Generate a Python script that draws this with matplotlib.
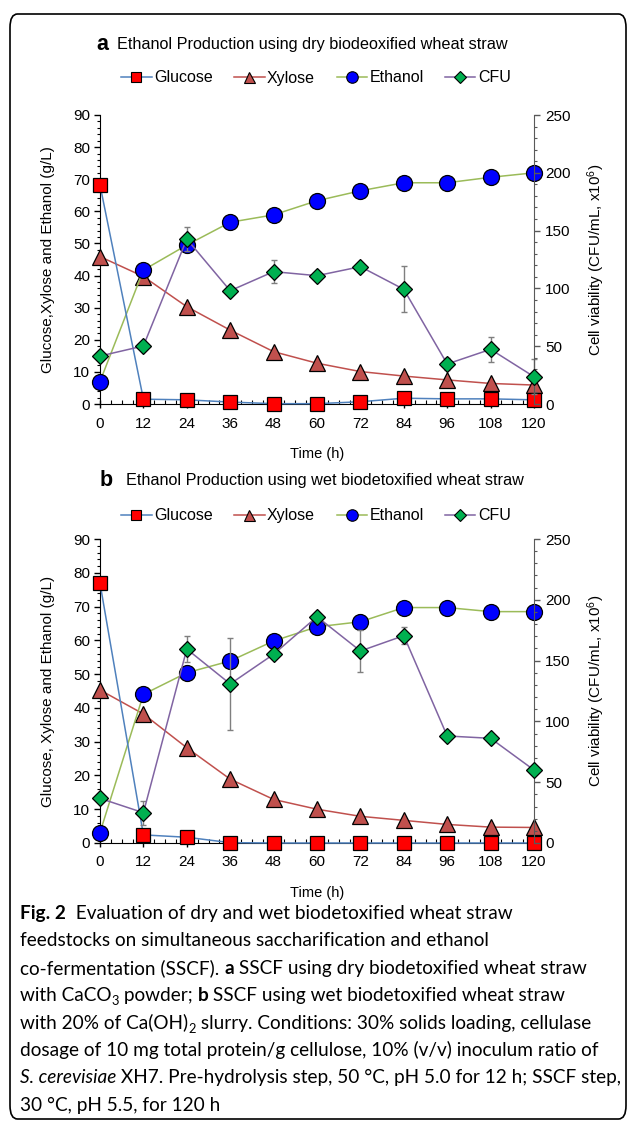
import matplotlib
matplotlib.use("Agg")
import matplotlib.pyplot as plt
from matplotlib.lines import Line2D
from matplotlib.patches import FancyBboxPatch
from matplotlib.ticker import MultipleLocator

plt.rcParams['font.family'] = ['Liberation Sans', 'DejaVu Sans']
plt.rcParams['mathtext.fontset'] = 'custom'
plt.rcParams['mathtext.rm'] = 'Liberation Sans'
plt.rcParams['mathtext.it'] = 'Liberation Sans:italic'
plt.rcParams['mathtext.bf'] = 'Liberation Sans:bold'

# ---------------- data ----------------
time_h = [0, 12, 24, 36, 48, 60, 72, 84, 96, 108, 120]
series_names = ["Glucose", "Xylose", "Ethanol", "CFU"]

a_glucose = [68.2, 1.5, 1.3, 0.6, 0.1, 0.1, 0.7, 1.8, 1.6, 1.6, 1.3]
a_xylose = [45.9, 39.7, 30.3, 23.0, 16.3, 12.7, 10.1, 8.7, 7.5, 6.4, 5.9]
a_ethanol = [7.0, 41.7, 49.5, 56.6, 58.9, 63.3, 66.4, 68.9, 68.9, 70.6, 72.0]
a_ethanol_err = [0, 0, 1.5, 1.8, 1.0, 0, 0, 0, 0, 0, 0]
a_cfu = [41.5, 50.2, 142.7, 98.0, 114.5, 111.0, 118.8, 99.2, 34.6, 47.3, 23.6]
a_cfu_err = [0, 0, 10, 0, 10, 0, 0, 20, 5, 11, 15]

b_glucose = [76.9, 2.4, 1.7, 0.1, 0.0, 0.0, 0.0, 0.0, 0.0, 0.0, 0.0]
b_xylose = [45.3, 38.2, 28.2, 18.9, 12.9, 10.0, 7.9, 6.7, 5.5, 4.7, 4.6]
b_ethanol = [3.1, 44.0, 50.4, 53.9, 59.8, 64.0, 65.5, 69.7, 69.7, 68.5, 68.5]
b_ethanol_err = [0, 0, 0, 0, 0, 0, 2.0, 0, 0, 0, 0]
b_cfu = [36.7, 24.9, 159.5, 130.8, 155.2, 186.1, 157.9, 170.5, 88.0, 86.1, 60.0]
b_cfu_err = [0, 10, 10.5, 38, 0, 0, 17, 7, 0, 3, 0]

x_ticks = [0, 12, 24, 36, 48, 60, 72, 84, 96, 108, 120]
left_ticks = [0, 10, 20, 30, 40, 50, 60, 70, 80, 90]
right_ticks = [0, 50, 100, 150, 200, 250]

titles = ["Ethanol Production using dry biodeoxified wheat straw",
          "Ethanol Production using wet biodetoxified wheat straw"]
panel_letters = ["a", "b"]
left_labels = ["Glucose,Xylose and Ethanol (g/L)", "Glucose, Xylose and Ethanol (g/L)"]
right_label = "Cell viability (CFU/mL, x10$^6$)"
x_label = "Time (h)"

# ---------------- styles ----------------
W, H = 629, 1128
fig = plt.figure(figsize=(W / 100, H / 100), dpi=100)

def fx(x):
    return x / W

def fy(y):
    return 1 - y / H

line_cols = {"Glucose": "#4F81BD", "Xylose": "#C0504D", "Ethanol": "#9BBB59", "CFU": "#8064A2"}
mk_face = {"Glucose": "#FF0000", "Xylose": "#C0504D", "Ethanol": "#0000FF", "CFU": "#00B050"}
mk_shape = {"Glucose": "s", "Xylose": "^", "Ethanol": "o", "CFU": "D"}
mk_size = {"Glucose": 10.5, "Xylose": 11, "Ethanol": 11.5, "CFU": 8.5}

# frame
frame = FancyBboxPatch((fx(10), fy(1119)), fx(616), (1119 - 14) / H,
                       boxstyle="round,pad=0,rounding_size=0.012",
                       transform=fig.transFigure, fill=False, ec="black", lw=1.2)
fig.patches.append(frame)

panels = [
    dict(gl=a_glucose, xy=a_xylose, et=a_ethanol, ete=a_ethanol_err, cf=a_cfu, cfe=a_cfu_err,
         top=115, bot=404, title_y=44, leg_y=78, letter_x=96, title_x=117),
    dict(gl=b_glucose, xy=b_xylose, et=b_ethanol, ete=b_ethanol_err, cf=b_cfu, cfe=b_cfu_err,
         top=539, bot=843, title_y=481, leg_y=516, letter_x=100, title_x=126),
]

L, R = 100, 534
for i, p in enumerate(panels):
    ax = fig.add_axes([fx(L), fy(p["bot"]), fx(R - L), (p["bot"] - p["top"]) / H])
    ax.set_xlim(0, 120)
    ax.set_ylim(0, 90)
    ax.patch.set_visible(False)

    ax.plot(time_h, p["xy"], color=line_cols["Xylose"], lw=1.1, marker=mk_shape["Xylose"],
            ms=mk_size["Xylose"], mfc=mk_face["Xylose"], mec="black", mew=0.9, clip_on=False, zorder=3)
    ax.errorbar(time_h, p["et"], yerr=p["ete"], fmt="none", ecolor="#7F7F7F", elinewidth=1,
                capsize=2, zorder=3.5, clip_on=False)
    ax.plot(time_h, p["et"], color=line_cols["Ethanol"], lw=1.1, marker=mk_shape["Ethanol"],
            ms=mk_size["Ethanol"], mfc=mk_face["Ethanol"], mec="black", mew=0.9, clip_on=False, zorder=4)
    ax.plot(time_h, p["gl"], color=line_cols["Glucose"], lw=1.1, marker=mk_shape["Glucose"],
            ms=mk_size["Glucose"], mfc=mk_face["Glucose"], mec="black", mew=0.9, clip_on=False, zorder=5)

    for s in ["top", "right"]:
        ax.spines[s].set_visible(False)
    ax.spines["left"].set_color("#000000")
    ax.spines["bottom"].set_color("#000000")
    ax.set_xticks(x_ticks)
    ax.set_yticks(left_ticks)
    ax.xaxis.set_minor_locator(MultipleLocator(3))
    ax.yaxis.set_minor_locator(MultipleLocator(2))
    ax.tick_params(axis="x", which="major", direction="inout", length=6, width=1, labelsize=11, pad=6)
    ax.tick_params(axis="x", which="minor", direction="in", length=3, width=0.8)
    ax.tick_params(axis="y", which="major", direction="out", length=4, width=1, labelsize=11, pad=3)
    ax.tick_params(axis="y", which="minor", direction="out", length=2.5, width=0.8)
    ax.set_ylabel(left_labels[i], fontsize=11, labelpad=13)
    ax.set_xlabel(x_label, fontsize=10.5, labelpad=12)

    ax2 = ax.twinx()
    ax2.set_ylim(0, 250)
    ax2.set_xlim(0, 120)
    for s in ["top", "left", "bottom"]:
        ax2.spines[s].set_visible(False)
    ax2.spines["right"].set_color("#595959")
    ax2.errorbar(time_h, p["cf"], yerr=p["cfe"], fmt="none", ecolor="#7F7F7F", elinewidth=1,
                 capsize=2, zorder=2, clip_on=False)
    ax2.plot(time_h, p["cf"], color=line_cols["CFU"], lw=1.1, marker=mk_shape["CFU"],
             ms=mk_size["CFU"], mfc=mk_face["CFU"], mec="black", mew=0.9, clip_on=False, zorder=3)
    ax2.set_yticks(right_ticks)
    ax2.yaxis.set_minor_locator(MultipleLocator(10))
    ax2.tick_params(axis="y", which="major", direction="out", length=4, width=1, labelsize=11,
                    color="#595959", pad=4)
    ax2.tick_params(axis="y", which="minor", direction="out", length=2.5, width=0.8, color="#595959")
    ax2.set_ylabel(right_label, fontsize=11, labelpad=11)

    # title
    fig.text(fx(p["letter_x"]), fy(p["title_y"]), panel_letters[i], fontsize=15.5, fontweight="bold",
             ha="left", va="center")
    fig.text(fx(p["title_x"]), fy(p["title_y"]), titles[i], fontsize=11.7, ha="left", va="center")

    handles = []
    for name in series_names:
        handles.append(Line2D([], [], color=line_cols[name], lw=1.1, marker=mk_shape[name],
                              ms=mk_size[name] * 0.72, mfc=mk_face[name], mec="black", mew=0.8))
    fig.legend(handles, series_names, loc="center", bbox_to_anchor=(fx(316), fy(p["leg_y"])),
               ncol=4, frameon=False, fontsize=11.5, handlelength=1.9, handletextpad=0.15,
               columnspacing=1.35, borderpad=0)

# ---------------- caption ----------------
cap_font = "Lato"
renderer = fig.canvas.get_renderer()

def seg_kw(st, size):
    kw = dict(family=cap_font, fontsize=size)
    if st == "b":
        kw["fontweight"] = "bold"
    elif st == "i":
        kw["fontstyle"] = "italic"
    elif st == "sub":
        kw["fontsize"] = size * 0.68
    return kw

def seg_width(txt, **kw):
    t1 = fig.text(0, 0, txt + "|", **kw)
    t2 = fig.text(0, 0, "|", **kw)
    w = t1.get_window_extent(renderer).width - t2.get_window_extent(renderer).width
    t1.remove(); t2.remove()
    return w

def line_width(segs, size):
    return sum(seg_width(t, **seg_kw(st, size)) for t, st in segs)

caption_lines = [
    [("Fig. 2", "b"), ("  Evaluation of dry and wet biodetoxified wheat straw", "n")],
    [("feedstocks on simultaneous saccharification and ethanol", "n")],
    [("co-fermentation (SSCF). ", "n"), ("a", "b"), (" SSCF using dry biodetoxified wheat straw", "n")],
    [("with CaCO", "n"), ("3", "sub"), (" powder; ", "n"), ("b", "b"), (" SSCF using wet biodetoxified wheat straw", "n")],
    [("with 20% of Ca(OH)", "n"), ("2", "sub"), (" slurry. Conditions: 30% solids loading, cellulase", "n")],
    [("dosage of 10 mg total protein/g cellulose, 10% (v/v) inoculum ratio of", "n")],
    [("S. cerevisiae", "i"), (" XH7. Pre-hydrolysis step, 50 \u00b0C, pH 5.0 for 12 h; SSCF step,", "n")],
    [("30 \u00b0C, pH 5.5, for 120 h", "n")],
]

base = 13.0
max_w = max(line_width(s, base) for s in caption_lines)
cap_size = base * 598.0 / max_w

def rich_line(x, y, segs):
    for txt, st in segs:
        kw = seg_kw(st, cap_size)
        dy = 4 if st == "sub" else 0
        fig.text(fx(x), fy(y + dy), txt, ha="left", va="baseline", **kw)
        x += seg_width(txt, **kw)

for k, segs in enumerate(caption_lines):
    rich_line(20, 919 + 27.4 * k, segs)

fig.savefig("out.png", dpi=100)
